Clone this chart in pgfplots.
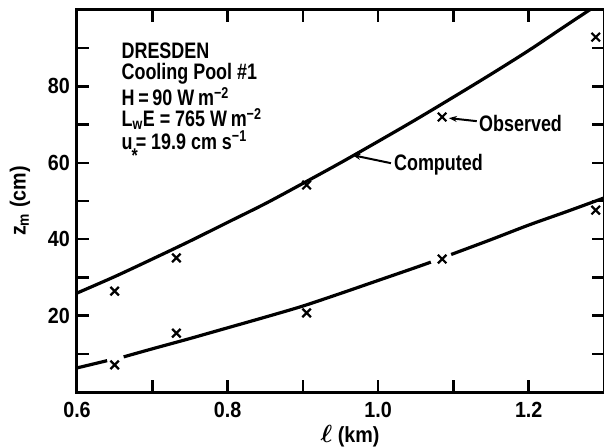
\documentclass[border=0pt]{standalone}
\usepackage{fontspec}
\setmainfont{Liberation Sans}[FakeStretch=0.9]
\newfontfamily\narrowfont{Liberation Sans}[FakeStretch=0.8]
\usepackage{pgfplots}
\pgfplotsset{compat=1.18}
\usetikzlibrary{arrows.meta}

\newcommand{\lbl}{\bfseries\fontsize{22}{22}\selectfont}
\newcommand{\txt}{\narrowfont\bfseries\fontsize{22.5}{22.5}\selectfont}

\begin{document}
\begin{tikzpicture}
\begin{axis}[
  width=527bp, height=382bp, scale only axis,
  xmin=0.6, xmax=1.3, ymin=0, ymax=100,
  axis line style={line width=3bp},
  tick style={line width=2.5bp, black},
  major tick length=12bp,
  tick align=inside,
  xtick={0.6,0.7,0.8,0.9,1.0,1.1,1.2,1.3},
  xticklabels={0.6,,0.8,,1.0,,1.2,},
  ytick={0,10,20,30,40,50,60,70,80,90,100},
  yticklabels={,,20,,40,,60,,80,,},
  xticklabel style={font=\lbl, inner sep=0pt, yshift=-10bp},
  yticklabel style={font=\lbl, inner sep=0pt, xshift=-7bp},
  xlabel={{\fontsize{28}{28}\selectfont\boldmath$\ell$}\ (km)},
  xlabel style={font=\lbl, at={(axis description cs:0.518,-0.115)}, anchor=center},
  ylabel={z\textsubscript{m} (cm)},
  ylabel style={font=\lbl, at={(axis description cs:-0.108,0.5)}, anchor=center},
]
\coordinate (sw) at (rel axis cs:0,0);

% computed profiles
\addplot[line width=3.2bp, no markers, smooth] coordinates {
  (0.6,25.9) (0.65,30.2) (0.7,34.8) (0.75,39.5) (0.8,44.4) (0.85,49.3)
  (0.9,54.6) (0.95,60.0) (1.0,65.6) (1.05,71.3) (1.1,77.2) (1.15,83.2)
  (1.2,89.4) (1.25,96.0) (1.3,102.5)
};
\addplot[line width=3.2bp, no markers, smooth] coordinates {
  (0.6,6.3) (0.64,8.2)
};
\addplot[line width=3.2bp, no markers, smooth] coordinates {
  (0.662,9.2) (0.7,11.3) (0.75,14.0) (0.8,16.8) (0.85,19.6) (0.9,22.5)
  (0.95,25.8) (1.0,29.2) (1.05,32.6) (1.07,34.0)
};
\addplot[line width=3.2bp, no markers, smooth] coordinates {
  (1.097,36.0) (1.15,39.9) (1.2,43.7) (1.25,47.2) (1.3,50.8)
};

% observations
\addplot[only marks, mark=x, mark size=6bp, mark options={line width=2.2bp}] coordinates {
  (0.65,26.4) (0.732,35.1) (0.905,54.2) (1.085,72.0) (1.289,92.9)
};
\addplot[only marks, mark=x, mark size=6bp, mark options={line width=2.2bp}] coordinates {
  (0.65,7.1) (0.732,15.4) (0.905,20.7) (1.085,34.8) (1.289,47.6)
};

% annotations
\node[font=\txt, anchor=west, inner sep=0pt] at (axis cs:1.134,70.3) {Observed};
\draw[line width=2bp, -{Stealth[length=8bp, width=6bp]}] (axis cs:1.131,70.9) -- (axis cs:1.094,71.7);
\node[font=\txt, anchor=west, inner sep=0pt] at (axis cs:1.021,59.4) {Computed};
\draw[line width=2bp, -{Stealth[length=8bp, width=6bp]}] (axis cs:1.017,59.9) -- (axis cs:0.966,62.0);

\node[font=\txt, anchor=base west, inner sep=0pt] at (axis cs:0.659,87.4) {DRESDEN};
\node[font=\txt, anchor=base west, inner sep=0pt] at (axis cs:0.659,81.7) {Cooling Pool \#1};
\node[font=\txt, anchor=base west, inner sep=0pt] at (axis cs:0.659,74.9) {H\,=\,90 W\,m\textsuperscript{−2}};
\node[font=\txt, anchor=base west, inner sep=0pt] at (axis cs:0.659,69.4) {L\textsubscript{w}E = 765 W\,m\textsuperscript{−2}};
\node[font=\txt, anchor=base west, inner sep=0pt] at (axis cs:0.659,63.6) {u\kern-1bp\raisebox{-13bp}{\fontsize{20}{20}\selectfont *}\kern-2bp= 19.9 cm s\textsuperscript{−1}};
\end{axis}
\pgfresetboundingbox
\path (sw) ++(-77bp,-56bp) rectangle ++(604bp,448bp);
\end{tikzpicture}
\end{document}
